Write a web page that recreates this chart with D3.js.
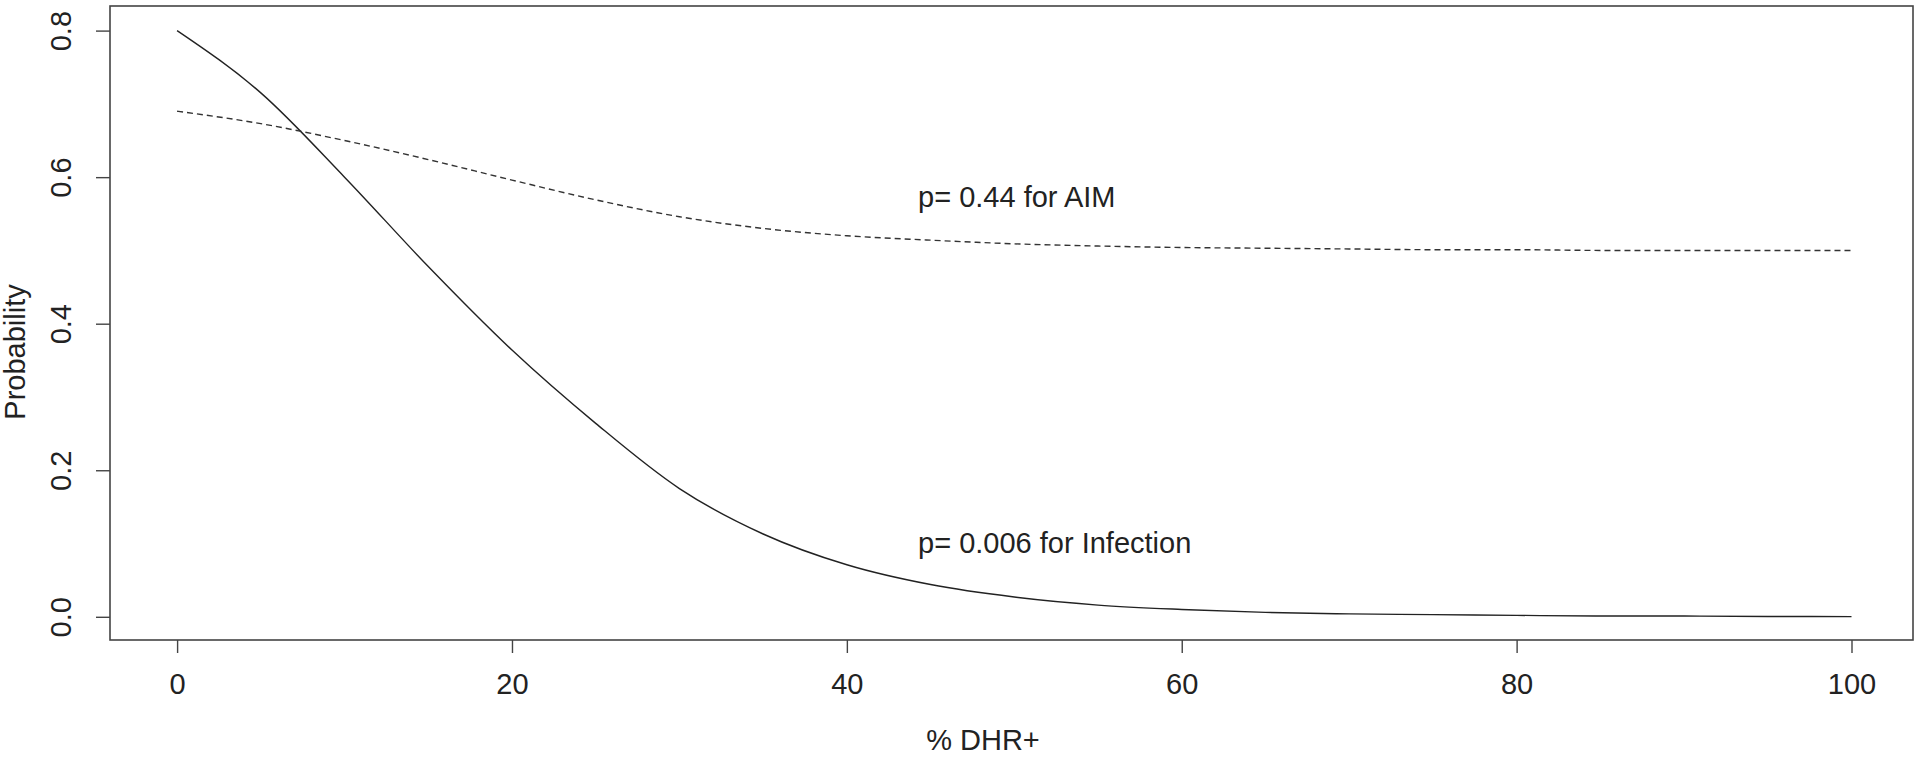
<!DOCTYPE html>
<html>
<head>
<meta charset="utf-8">
<script src="https://cdn.jsdelivr.net/npm/d3@7"></script>
<style>
  body { margin: 0; background: #fff; }
  svg text { font-family: "Liberation Sans", Arial, Helvetica, sans-serif; fill: #222; }
</style>
</head>
<body>
<script>
var dhr = [0, 5, 10, 15, 20, 25, 30, 35, 40, 45, 50, 55, 60, 65, 70, 75, 80, 85, 90, 95, 100];
// probability of infection (solid line)
var infection = [0.800, 0.715, 0.600, 0.478, 0.364, 0.264, 0.175, 0.113, 0.071, 0.044, 0.027,
                 0.016, 0.010, 0.006, 0.004, 0.003, 0.002, 0.001, 0.001, 0.0005, 0.0003];
// probability of AIM (dashed line)
var aim = [0.690, 0.673, 0.650, 0.624, 0.596, 0.569, 0.546, 0.530, 0.520, 0.514, 0.509,
           0.506, 0.504, 0.503, 0.502, 0.501, 0.501, 0.500, 0.500, 0.500, 0.500];
// tick values
var xTicks = [0, 20, 40, 60, 80, 100];
var yTicks = [0.0, 0.2, 0.4, 0.6, 0.8];
// annotation texts, anchored in data units
var notes = [
  {text: "p= 0.44 for AIM", x: 44.25, y: 0.5595},
  {text: "p= 0.006 for Infection", x: 44.25, y: 0.0866}
];

var width = 1915, height = 757;
var box = {left: 110, right: 1913, top: 6, bottom: 640};

var svg = d3.select("body").append("svg")
  .attr("width", width)
  .attr("height", height);

// scales
var x = d3.scaleLinear().domain([0, 100]).range([177.1, 1851.5]);
var y = d3.scaleLinear().domain([0, 0.8]).range([616.8, 30.6]);

// plot frame
svg.append("rect")
  .attr("x", box.left)
  .attr("y", box.top)
  .attr("width", box.right - box.left)
  .attr("height", box.bottom - box.top)
  .attr("fill", "none")
  .attr("stroke", "#444")
  .attr("stroke-width", 1.6);

// x axis
var xAxis = svg.append("g")
  .attr("transform", "translate(0," + box.bottom + ")")
  .call(d3.axisBottom(x).tickValues(xTicks).tickSize(13).tickPadding(20).tickFormat(d3.format("d")));
xAxis.select(".domain").remove();
xAxis.selectAll(".tick line").attr("stroke", "#444").attr("stroke-width", 1.4);
xAxis.selectAll(".tick text").attr("font-size", 29).attr("fill", "#222")
  .attr("font-family", "Liberation Sans, Arial, sans-serif");

// y axis, labels rotated like R's default las=0
var yAxis = svg.append("g")
  .attr("transform", "translate(" + box.left + ",0)")
  .call(d3.axisLeft(y).tickValues(yTicks).tickSize(14).tickFormat(d3.format(".1f")));
yAxis.select(".domain").remove();
yAxis.selectAll(".tick line").attr("stroke", "#444").attr("stroke-width", 1.4);
yAxis.selectAll(".tick text")
  .attr("font-size", 29).attr("fill", "#222")
  .attr("font-family", "Liberation Sans, Arial, sans-serif")
  .attr("x", null).attr("dy", null)
  .attr("text-anchor", "middle")
  .attr("transform", "translate(-39,0) rotate(-90)");

// axis titles
svg.append("text")
  .attr("x", 983)
  .attr("y", 750)
  .attr("text-anchor", "middle")
  .attr("font-size", 29)
  .text("% DHR+");

svg.append("text")
  .attr("transform", "translate(25,352) rotate(-90)")
  .attr("text-anchor", "middle")
  .attr("font-size", 29)
  .text("Probability");

// curves
var line = d3.line()
  .x(function(d, i) { return x(dhr[i]); })
  .y(function(d) { return y(d); })
  .curve(d3.curveMonotoneX);

svg.append("path")
  .datum(infection)
  .attr("d", line)
  .attr("fill", "none")
  .attr("stroke", "#222")
  .attr("stroke-width", 1.4);

svg.append("path")
  .datum(aim)
  .attr("d", line)
  .attr("fill", "none")
  .attr("stroke", "#333")
  .attr("stroke-width", 1.4)
  .attr("stroke-dasharray", "6,4");

// p-value notes
svg.selectAll("text.note")
  .data(notes)
  .enter().append("text")
  .attr("class", "note")
  .attr("x", function(d) { return x(d.x); })
  .attr("y", function(d) { return y(d.y); })
  .attr("font-size", 29)
  .text(function(d) { return d.text; });
</script>
</body>
</html>
